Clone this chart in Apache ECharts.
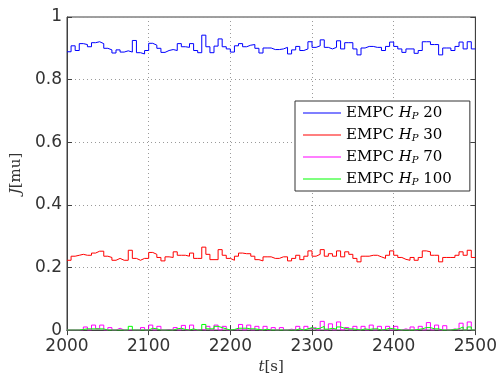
<!DOCTYPE html>
<html>
<head>
<meta charset="utf-8">
<script src="https://cdn.jsdelivr.net/npm/echarts@6/dist/echarts.min.js"></script>
<style>html,body{margin:0;padding:0;background:#fff;}#c{width:500px;height:380px;}</style>
</head>
<body>
<div id="c"></div>
<script>
const times = [2000,2005,2010,2015,2020,2025,2030,2035,2040,2045,
2050,2055,2060,2065,2070,2075,2080,2085,2090,2095,
2100,2105,2110,2115,2120,2125,2130,2135,2140,2145,
2150,2155,2160,2165,2170,2175,2180,2185,2190,2195,
2200,2205,2210,2215,2220,2225,2230,2235,2240,2245,
2250,2255,2260,2265,2270,2275,2280,2285,2290,2295,
2300,2305,2310,2315,2320,2325,2330,2335,2340,2345,
2350,2355,2360,2365,2370,2375,2380,2385,2390,2395,
2400,2405,2410,2415,2420,2425,2430,2435,2440,2445,
2450,2455,2460,2465,2470,2475,2480,2485,2490,2495,2500];

const hp20 = [0.889,0.908,0.893,0.915,0.912,0.905,0.918,0.921,0.915,0.900,
0.895,0.885,0.895,0.888,0.892,0.888,0.925,0.886,0.882,0.893,
0.916,0.910,0.900,0.887,0.893,0.896,0.893,0.915,0.905,0.903,
0.915,0.893,0.886,0.942,0.905,0.886,0.907,0.930,0.905,0.898,
0.888,0.908,0.915,0.905,0.910,0.912,0.900,0.885,0.901,0.901,
0.896,0.896,0.898,0.903,0.882,0.895,0.906,0.893,0.898,0.921,
0.903,0.908,0.927,0.903,0.898,0.903,0.924,0.898,0.918,0.918,
0.898,0.879,0.901,0.906,0.906,0.903,0.903,0.893,0.906,0.920,
0.906,0.898,0.887,0.898,0.898,0.884,0.893,0.921,0.921,0.912,
0.912,0.879,0.901,0.901,0.893,0.906,0.920,0.898,0.921,0.898,0.898];

const hp30 = [0.223,0.236,0.239,0.242,0.239,0.239,0.246,0.252,0.252,0.236,
0.232,0.223,0.229,0.223,0.223,0.255,0.229,0.223,0.229,0.229,
0.248,0.242,0.232,0.221,0.234,0.232,0.250,0.239,0.239,0.236,
0.246,0.229,0.229,0.265,0.242,0.225,0.225,0.257,0.239,0.229,
0.223,0.236,0.246,0.244,0.244,0.236,0.225,0.221,0.234,0.234,
0.229,0.229,0.234,0.234,0.221,0.229,0.239,0.225,0.236,0.253,
0.236,0.242,0.257,0.236,0.244,0.236,0.253,0.234,0.250,0.242,
0.229,0.218,0.236,0.236,0.239,0.239,0.234,0.229,0.239,0.253,
0.239,0.232,0.226,0.223,0.232,0.223,0.232,0.253,0.250,0.239,
0.239,0.218,0.232,0.232,0.232,0.239,0.250,0.239,0.255,0.232,0.232];

const hp70 = [0,0,0,0,0.010,0,0.016,0.004,0.016,0,
0.008,0,0.006,0,0,0,0,0,0.008,0,
0.016,0,0.012,0,0.002,0,0.008,0,0.015,0,
0.016,0,0.002,0,0.012,0,0.016,0,0.012,0,
0.002,0,0.018,0,0.016,0,0.012,0,0.012,0,
0.008,0,0.008,0,0.003,0,0.012,0,0.012,0.005,
0.008,0,0.028,0,0.020,0,0.026,0,0.008,0,
0.012,0,0.012,0,0.016,0,0.012,0,0.012,0,
0.012,0,0.004,0,0.010,0,0.012,0,0.024,0,
0.016,0,0.014,0,0.004,0,0.022,0,0.026,0,0];

const hp100 = [0,0,0,0.002,0.004,0.004,0.004,0.004,0.004,0,
0,0,0,0,0,0.012,0,0,0,0,
0.006,0.004,0,0,0,0,0.004,0.006,0.002,0,
0.004,0,0,0.018,0.004,0.004,0.012,0.008,0.004,0,
0.002,0.006,0.006,0.006,0.004,0.004,0.002,0,0.003,0,
0,0,0,0,0,0,0.004,0,0.004,0.008,
0.004,0.006,0.012,0.003,0.006,0.003,0.010,0.006,0.004,0.004,
0.002,0,0.004,0.002,0.004,0.004,0,0.002,0.006,0.004,
0.002,0,0,0,0,0.002,0.004,0.008,0.008,0.004,
0.004,0,0,0,0.002,0.004,0.010,0,0.010,0,0];

const seriesNames = ['EMPC H_P 20','EMPC H_P 30','EMPC H_P 70','EMPC H_P 100'];
const horizonLabels = ['20','30','70','100'];
const seriesColors = ['#0000ff','#ff0000','#ff00ff','#00ff00'];
const seriesValues = [hp20, hp30, hp70, hp100];

const xTicks = {min: 2000, max: 2500, interval: 100};
const yTicks = {min: 0, max: 1, interval: 0.2};

const chart = echarts.init(document.getElementById('c'), null, {renderer: 'canvas'});
const axisColor = '#404040';
const labelFont = {fontFamily: 'DejaVu Sans', fontSize: 17, color: '#333'};

const series = seriesValues.map((vals, k) => ({
  name: seriesNames[k],
  type: 'line',
  step: 'end',
  symbol: 'none',
  xAxisIndex: 0, yAxisIndex: 0,
  lineStyle: {color: seriesColors[k], width: 1},
  itemStyle: {color: seriesColors[k]},
  data: times.map((t, i) => [t, vals[i]]),
  animation: false
}));

chart.setOption({
  animation: false,
  backgroundColor: '#fff',
  grid: {left: 67, right: 21, top: 17, bottom: 46, show: true, borderColor: axisColor, borderWidth: 1, backgroundColor: '#fff'},
  legend: {
    orient: 'vertical', left: 295, top: 101,
    data: seriesNames,
    icon: 'rect',
    itemWidth: 38, itemHeight: 1, itemGap: 6,
    padding: [4, 18, 4, 8],
    backgroundColor: '#fff', borderColor: '#333', borderWidth: 1,
    formatter: function (name) {
      const k = seriesNames.indexOf(name);
      return '{a|EMPC }{h|H}{s|P}{a| ' + horizonLabels[k] + '}';
    },
    textStyle: {
      rich: {
        a: {fontFamily: 'DejaVu Serif', fontSize: 15, color: '#000', lineHeight: 16},
        h: {fontFamily: 'DejaVu Serif', fontStyle: 'italic', fontSize: 15, color: '#000', lineHeight: 16},
        s: {fontFamily: 'DejaVu Serif', fontStyle: 'italic', fontSize: 10, color: '#000', lineHeight: 16, padding: [6, 0, 0, 0]}
      }
    }
  },
  xAxis: [{
    type: 'value', min: xTicks.min, max: xTicks.max, interval: xTicks.interval,
    position: 'bottom',
    name: '{i|t}{n|[s]}', nameLocation: 'middle', nameGap: 28,
    nameTextStyle: {rich: {
      i: {fontFamily: 'DejaVu Serif', fontStyle: 'italic', fontSize: 15, color: '#333'},
      n: {fontFamily: 'DejaVu Serif', fontSize: 15, color: '#333'}
    }},
    axisLine: {show: true, lineStyle: {color: axisColor}},
    axisTick: {show: true, inside: true, length: 5, lineStyle: {color: axisColor}},
    axisLabel: Object.assign({margin: 8, formatter: v => String(v)}, labelFont),
    splitLine: {show: true, lineStyle: {color: '#9a9a9a', type: [1, 3], width: 1}}
  }, {
    type: 'value', min: xTicks.min, max: xTicks.max, interval: xTicks.interval,
    position: 'top',
    axisLine: {show: true, lineStyle: {color: axisColor}},
    axisTick: {show: true, inside: true, length: 5, lineStyle: {color: axisColor}},
    axisLabel: {show: false}, splitLine: {show: false}
  }],
  yAxis: [{
    type: 'value', min: yTicks.min, max: yTicks.max, interval: yTicks.interval,
    position: 'left',
    name: '{i|J}{n|[mu]}', nameLocation: 'middle', nameGap: 38,
    nameTextStyle: {rich: {
      i: {fontFamily: 'DejaVu Serif', fontStyle: 'italic', fontSize: 15, color: '#333'},
      n: {fontFamily: 'DejaVu Serif', fontSize: 15, color: '#333'}
    }},
    axisLine: {show: true, lineStyle: {color: axisColor}},
    axisTick: {show: true, inside: true, length: 5, lineStyle: {color: axisColor}},
    axisLabel: Object.assign({margin: 5, formatter: v => String(+v.toFixed(1))}, labelFont),
    splitLine: {show: true, lineStyle: {color: '#9a9a9a', type: [1, 3], width: 1}}
  }, {
    type: 'value', min: yTicks.min, max: yTicks.max, interval: yTicks.interval,
    position: 'right',
    axisLine: {show: true, lineStyle: {color: axisColor}},
    axisTick: {show: true, inside: true, length: 5, lineStyle: {color: axisColor}},
    axisLabel: {show: false}, splitLine: {show: false}
  }],
  series: series
});
</script>
</body>
</html>
